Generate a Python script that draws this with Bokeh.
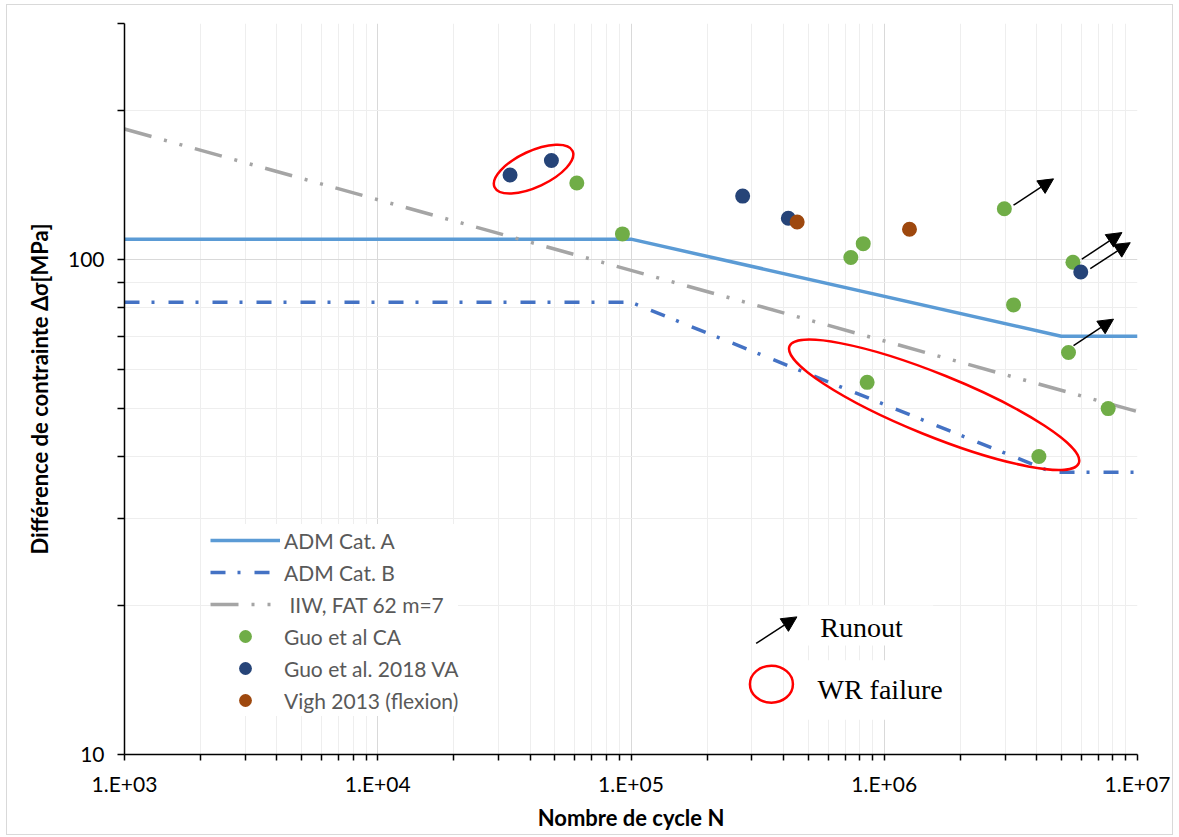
from bokeh.plotting import figure
from bokeh.models import (FixedTicker, CustomJSTickFormatter, Legend, LegendItem,
                          Arrow, NormalHead, Label, BoxAnnotation, ColumnDataSource)
from bokeh.embed import file_html
from bokeh.resources import INLINE

# ---------------- data ----------------
adm_a_n = [1e3, 1e5, 5e6, 1e7]
adm_a_s = [110, 110, 70, 70]
adm_b_n = [1e3, 1e5, 4.6e6, 1e7]
adm_b_s = [82, 82, 37.2, 37.2]
iiw_n = [1e3, 1e7]
iiw_s = [183.6, 49.3]

guo_ca_n = [61100, 92500, 738000, 826000, 856000, 2.98e6, 3.24e6, 4.08e6, 5.34e6, 5.56e6, 7.66e6]
guo_ca_s = [142.8, 112.7, 101, 107.7, 56.5, 126.7, 81, 40, 64.9, 98.8, 50]
guo_va_n = [33300, 48500, 276000, 418000, 5.97e6]
guo_va_s = [148.2, 158.6, 134.4, 121.2, 94.4]
vigh_n = [453000, 1.258e6]
vigh_s = [119.1, 115.2]

# runout arrows (start / end)
runout_n0 = [3.24e6, 6.03e6, 6.51e6, 5.59e6]
runout_s0 = [128.8, 100.2, 95.9, 67.0]
runout_n1 = [4.66e6, 8.68e6, 9.36e6, 8.04e6]
runout_s1 = [145.6, 113.4, 108.2, 75.8]

# WR failure ellipses
wr_n = [41240, 1.574e6]
wr_s = [152.4, 50.9]
wr_w = [86, 312]
wr_h = [36, 62]
wr_angle = [0.436, -0.384]

x_ticks = [1e3, 1e4, 1e5, 1e6, 1e7]
x_labels = ["1.E+03", "1.E+04", "1.E+05", "1.E+06", "1.E+07"]
x_minor = [m * 10 ** e for e in range(3, 7) for m in range(2, 10)]
y_ticks = [10, 100]
y_labels = ["10", "100"]
y_minor = [20, 30, 40, 50, 60, 70, 80, 90, 200, 300]

series_labels = ["ADM Cat. A", "ADM Cat. B", " IIW, FAT 62 m=7",
                 "Guo et al CA", "Guo et al. 2018 VA", "Vigh 2013 (flexion)"]

FONT = "Lato"

p = figure(width=1165, height=829, x_axis_type="log", y_axis_type="log",
           x_range=(1e3, 1e7), y_range=(10, 300),
           output_backend="svg", toolbar_location=None,
           min_border_left=117, min_border_right=35, min_border_top=18, min_border_bottom=80)
p.outline_line_color = None
p.background_fill_color = "white"
p.border_fill_color = "white"
p.styles = {"margin-left": "7px", "margin-top": "5px", "outline": "1px solid #d9d9d9"}

# axes
p.xaxis.ticker = FixedTicker(ticks=x_ticks, minor_ticks=x_minor)
p.yaxis.ticker = FixedTicker(ticks=y_ticks, minor_ticks=y_minor)
p.xaxis.formatter = CustomJSTickFormatter(args=dict(vals=x_ticks, labs=x_labels), code="""
const i = vals.findIndex(v => Math.abs(v - tick) < 1e-6 * v);
return i >= 0 ? labs[i] : '';""")
p.yaxis.formatter = CustomJSTickFormatter(args=dict(vals=y_ticks, labs=y_labels), code="""
const i = vals.findIndex(v => Math.abs(v - tick) < 1e-6 * v);
return i >= 0 ? labs[i] : '';""")
for ax in (p.xaxis, p.yaxis):
    ax.axis_line_color = "black"
    ax.axis_line_width = 1.5
    ax.major_tick_line_color = "black"
    ax.minor_tick_line_color = "black"
    ax.major_tick_line_width = 1.5
    ax.minor_tick_line_width = 1.5
    ax.major_tick_in = 0
    ax.minor_tick_in = 0
    ax.major_label_text_font = FONT
    ax.major_label_text_font_size = "21px"
    ax.major_label_text_color = "black"
    ax.axis_label_text_font = FONT
    ax.axis_label_text_font_style = "bold"
    ax.axis_label_text_font_size = "22px"
    ax.axis_label_text_color = "black"
p.xaxis.major_tick_out = 6
p.xaxis.minor_tick_out = 6
p.yaxis.major_tick_out = 7
p.yaxis.minor_tick_out = 7
p.xaxis.major_label_standoff = 10
p.yaxis.major_label_standoff = 13
p.xaxis.axis_label = "Nombre de cycle N"
p.yaxis.axis_label = "Différence de contrainte Δσ[MPa]"
p.xaxis.axis_label_standoff = 5
p.yaxis.axis_label_standoff = 12

# grids
for g in (p.xgrid, p.ygrid):
    g.grid_line_color = "#d9d9d9"
    g.grid_line_width = 1
    g.minor_grid_line_color = "#eeeeee"
    g.minor_grid_line_width = 1

# series
ra = p.line(adm_a_n, adm_a_s, line_color="#5b9bd5", line_width=3.5)
rb = p.line(adm_b_n, adm_b_s, line_color="#4472c4", line_width=3.5, line_dash="15 12 3 14")
ri = p.line(iiw_n, iiw_s, line_color="#a5a5a5", line_width=3.5, line_dash="28 13 3 13 3 13")

# WR failure ellipses
p.ellipse(x=wr_n, y=wr_s, width=wr_w, height=wr_h, angle=wr_angle,
          width_units="screen", height_units="screen",
          fill_color=None, line_color="#ff0000", line_width=2.5)

rc = p.scatter(guo_ca_n, guo_ca_s, size=15, fill_color="#70ad47", line_color=None)
rv = p.scatter(guo_va_n, guo_va_s, size=15, fill_color="#264478", line_color=None)
rg = p.scatter(vigh_n, vigh_s, size=15, fill_color="#9e480e", line_color=None)

# runout arrows
src = ColumnDataSource(dict(x0=runout_n0, y0=runout_s0, x1=runout_n1, y1=runout_s1))
p.add_layout(Arrow(x_start="x0", y_start="y0", x_end="x1", y_end="y1", source=src,
                   line_color="black", line_width=1.5,
                   end=NormalHead(size=15, fill_color="black", line_color="black")))

# legend
legend = Legend(items=[LegendItem(label=lab, renderers=[r]) for lab, r in
                       zip(series_labels, [ra, rb, ri, rc, rv, rg])],
                location=(86, 38), orientation="vertical",
                glyph_width=70, glyph_height=32, label_standoff=4, spacing=0,
                padding=12, margin=0, border_line_color=None,
                background_fill_color="white", background_fill_alpha=1,
                label_text_font=FONT, label_text_font_size="21px",
                label_text_color="#595959")
p.add_layout(legend)

# secondary legend (Runout / WR failure)
key_box_n = [[4.66e5, 1.56e6], [4.66e5, 1.7e6]]
key_box_s = [[16.6, 20.0], [11.75, 15.5]]
for (l, r), (b, t) in zip(key_box_n, key_box_s):
    p.add_layout(BoxAnnotation(left=l, right=r, bottom=b, top=t,
                               fill_color="white", fill_alpha=1, line_color=None))

key_arrow = dict(n0=3.12e5, s0=16.77, n1=4.52e5, s1=18.97)
p.add_layout(Arrow(x_start=key_arrow["n0"], y_start=key_arrow["s0"],
                   x_end=key_arrow["n1"], y_end=key_arrow["s1"],
                   line_color="black", line_width=1.5,
                   end=NormalHead(size=15, fill_color="black", line_color="black")))
p.ellipse(x=[3.585e5], y=[13.87], width=43, height=37,
          width_units="screen", height_units="screen",
          fill_color=None, line_color="#ff0000", line_width=2.5)

key_text = ["Runout", "WR failure"]
key_text_n = [5.59e5, 5.45e5]
key_text_s = [18.05, 13.55]
for t, xn, ys in zip(key_text, key_text_n, key_text_s):
    p.add_layout(Label(x=xn, y=ys, text=t, text_font="Liberation Serif",
                       text_font_size="28px", text_color="black",
                       text_baseline="alphabetic", text_align="left"))

open("out.html", "w").write(file_html(p, INLINE))
